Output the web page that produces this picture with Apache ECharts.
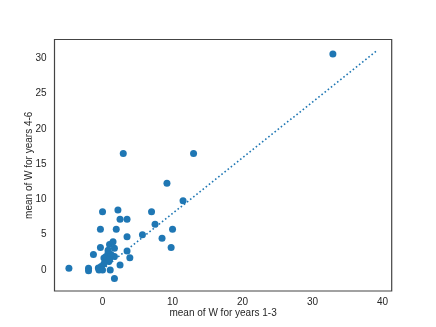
<!DOCTYPE html>
<html>
<head>
<meta charset="utf-8">
<script src="https://cdn.jsdelivr.net/npm/echarts@6/dist/echarts.min.js"></script>
<style>
  html, body { margin: 0; padding: 0; background: #fff; }
  #chart { width: 436px; height: 327px; }
</style>
</head>
<body>
<div id="chart"></div>
<script>
// mean of W, years 1-3 (x) vs years 4-6 (y)
const pointsX = [2.96, 13.0, 9.2, 11.5, 0.0, 2.2, 7.0, 2.5, 3.5, -0.3, 1.96, 7.5, 10.0, 5.7, 3.5, 8.5, 9.8, -0.3,
  1.0, 1.5, 1.7, 3.5, -1.3, 3.9, 0.2, 0.5, 1.7, 0.9, 2.5, -4.8, -2.0, -2.0, -0.6, -0.2, 0.2, -0.5, 0.0, 1.1,
  1.7, 32.9, 0.8, 1.2, 0.8, 1.0]
const pointsY = [16.5, 16.5, 12.3, 9.8, 8.26, 8.5, 8.26, 7.2, 7.2, 5.76, 5.76, 6.5, 5.76, 5.0, 4.7, 4.5, 3.2, 3.2,
  3.6, 4.0, 3.07, 2.7, 2.2, 1.74, 1.7, 1.9, 1.9, 1.2, 0.7, 0.24, 0.24, -0.1, 0.3, 0.5, 0.9, 0.0, 0.0, 0.0,
  -1.2, 30.6, 2.5, 2.2, 2.8, 1.5]
// dotted fit line
const fitX = [0.0, 39.1]
const fitY = [0.1, 31.0]

const xTicks = [0, 10, 20, 30, 40]
const yTicks = [0, 5, 10, 15, 20, 25, 30]

const chart = echarts.init(document.getElementById('chart'))

const font = 'Liberation Sans, Arial, sans-serif'
const blue = '#1f77b4'

const option = {
  animation: false,
  grid: {
    left: 54.5,
    right: 44.3,
    top: 39.5,
    bottom: 36,
    show: true,
    borderColor: '#444',
    borderWidth: 1.2,
    backgroundColor: 'transparent',
  },
  xAxis: {
    type: 'value',
    min: -6.86,
    max: 41.3,
    name: 'mean of W for years 1-3',
    nameLocation: 'middle',
    nameGap: 17,
    nameMoveOverlap: false,
    nameTextStyle: { fontFamily: font, fontSize: 10, color: '#262626', verticalAlign: 'top' },
    axisLine: { show: false },
    axisTick: { show: false },
    splitLine: { show: false },
    axisLabel: {
      customValues: xTicks,
      margin: 6,
      fontFamily: font,
      fontSize: 10,
      color: '#262626',
    },
  },
  yAxis: {
    type: 'value',
    min: -2.97,
    max: 32.65,
    name: 'mean of W for years 4-6',
    nameLocation: 'middle',
    nameGap: 20,
    nameMoveOverlap: false,
    nameTextStyle: { fontFamily: font, fontSize: 10, color: '#262626' },
    axisLine: { show: false },
    axisTick: { show: false },
    splitLine: { show: false },
    axisLabel: {
      customValues: yTicks,
      margin: 8,
      fontFamily: font,
      fontSize: 10,
      color: '#262626',
    },
  },
  series: [
    {
      type: 'scatter',
      data: pointsX.map((x, i) => [x, pointsY[i]]),
      symbolSize: 7,
      itemStyle: { color: blue, opacity: 1 },
      z: 2,
    },
    {
      type: 'line',
      data: fitX.map((x, i) => [x, fitY[i]]),
      showSymbol: false,
      symbol: 'none',
      lineStyle: { color: blue, width: 1.6, type: [1.6, 2.4] },
      z: 3,
    },
  ],
}

chart.setOption(option)
</script>
</body>
</html>
